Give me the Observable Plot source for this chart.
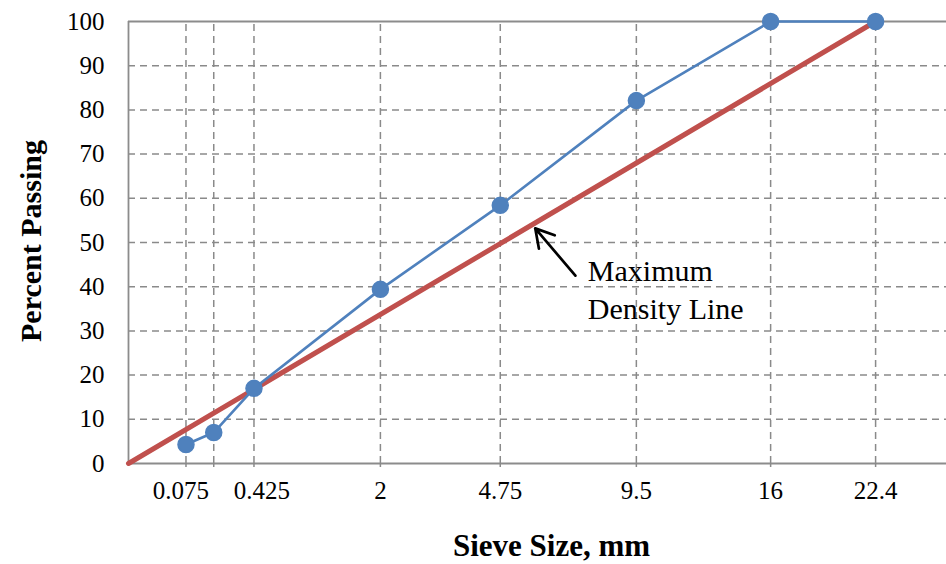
<!DOCTYPE html>
<html>
<head>
<meta charset="utf-8">
<script src="https://cdn.jsdelivr.net/npm/d3@7"></script>
<script src="https://cdn.jsdelivr.net/npm/@observablehq/plot@0.6"></script>
<style>
  html, body { margin: 0; padding: 0; background: #ffffff; }
  #chart svg { display: block; }
</style>
</head>
<body>
<div id="chart"></div>
<script>
// Sieve sizes (mm) and percent passing of the gradation curve
const sieveSizes = [0.075, 0.18, 0.425, 2, 4.75, 9.5, 16, 22.4];
const percentPassing = [4.3, 7, 17, 39.4, 58.4, 82.1, 100, 100];
// Tick labels along the sieve axis (0.18 is unlabeled in the original)
const sieveTickLabels = ["0.075", "", "0.425", "2", "4.75", "9.5", "16", "22.4"];
// Maximum density line (0.45 power) end points
const maxDensitySizes = [0, 22.4];
const maxDensityPassing = [0, 100];
// Y axis ticks
const percentTicks = [0, 10, 20, 30, 40, 50, 60, 70, 80, 90, 100];
// Annotation (in data units: mm, percent)
const annotationText = ["Maximum\nDensity Line"];
const annotationTail = [7.15, 42.5];
const annotationHead = [5.8, 53.2];
const annotationAt = [7.6, 39.8];
// Axis titles
const xTitle = "Sieve Size, mm";
const yTitle = "Percent Passing";

const gradation = sieveSizes.map((s, i) => ({size: s, pass: percentPassing[i]}));
const maxDensity = maxDensitySizes.map((s, i) => ({size: s, pass: maxDensityPassing[i]}));
const labelOf = new Map(sieveSizes.map((s, i) => [s, sieveTickLabels[i]]));
// the two crowded fine-sieve labels are nudged apart as in the original
const nudged = new Map([[0.075, -5], [0.425, 8]]);

const gridColor = "#8a8a8a";
const frameColor = "#8c8c8c";
const serif = "'Liberation Serif', 'Times New Roman', serif";

const chart = Plot.plot({
  width: 946,
  height: 564,
  marginLeft: 128,
  marginRight: 0,
  marginTop: 21,
  marginBottom: 101,
  style: {fontFamily: serif, fontSize: "25px", background: "#ffffff", color: "#000"},
  x: {type: "pow", exponent: 0.45, domain: [0, 27.4]},
  y: {domain: [0, 100]},
  marks: [
    // dashed grid
    Plot.ruleY(percentTicks.filter(d => d > 0 && d < 100), {stroke: gridColor, strokeWidth: 1.5, strokeDasharray: "7,5"}),
    Plot.ruleX(sieveSizes, {stroke: gridColor, strokeWidth: 1.5, strokeDasharray: "7,5", y1: 0, y2: 100}),
    // frame
    Plot.ruleX([0], {stroke: frameColor, strokeWidth: 1.8}),
    Plot.ruleY([0, 100], {stroke: frameColor, strokeWidth: 1.8}),
    // axes
    Plot.axisX({ticks: sieveSizes, tickSize: 4, tickPadding: 14, stroke: gridColor, strokeWidth: 1.5,
      tickFormat: d => nudged.has(d) ? "" : labelOf.get(d), label: null, fontSize: 25}),
    ...[...nudged].map(([s, off]) => Plot.axisX({ticks: [s], tickSize: 0, tickPadding: 18, dx: off,
      tickFormat: d => labelOf.get(d), label: null, fontSize: 25})),
    Plot.axisY({ticks: percentTicks, tickSize: 0, tickPadding: 24, label: null, fontSize: 25}),
    // maximum density line
    Plot.line(maxDensity, {x: "size", y: "pass", stroke: "#c0504d", strokeWidth: 5}),
    // gradation curve
    Plot.line(gradation, {x: "size", y: "pass", stroke: "#4f81bd", strokeWidth: 2.6}),
    Plot.dot(gradation, {x: "size", y: "pass", r: 8, fill: "#4f81bd", stroke: "#4f81bd"}),
    // annotation
    Plot.arrow([0], {x1: () => annotationTail[0], y1: () => annotationTail[1], x2: () => annotationHead[0], y2: () => annotationHead[1],
      stroke: "#000", strokeWidth: 2.7, headLength: 14, bend: 0}),
    Plot.text(annotationText, {x: () => annotationAt[0], y: () => annotationAt[1], text: d => d, textAnchor: "start",
      fontSize: 30, lineHeight: 1.27, fill: "#000"}),
    // x axis title
    Plot.text([xTitle], {frameAnchor: "bottom", dx: 14, dy: 92, text: d => d, fontWeight: "bold", fontSize: 31, fill: "#000"})
  ]
});

// y axis title (rotated), centred on the plotting frame
d3.select(chart).append("text")
  .attr("transform", "translate(30,241) rotate(-90)")
  .attr("text-anchor", "middle")
  .attr("dy", "0.35em")
  .attr("font-family", serif)
  .attr("font-size", 30)
  .attr("font-weight", "bold")
  .attr("fill", "#000")
  .text(yTitle);

document.getElementById("chart").appendChild(chart);
</script>
</body>
</html>
